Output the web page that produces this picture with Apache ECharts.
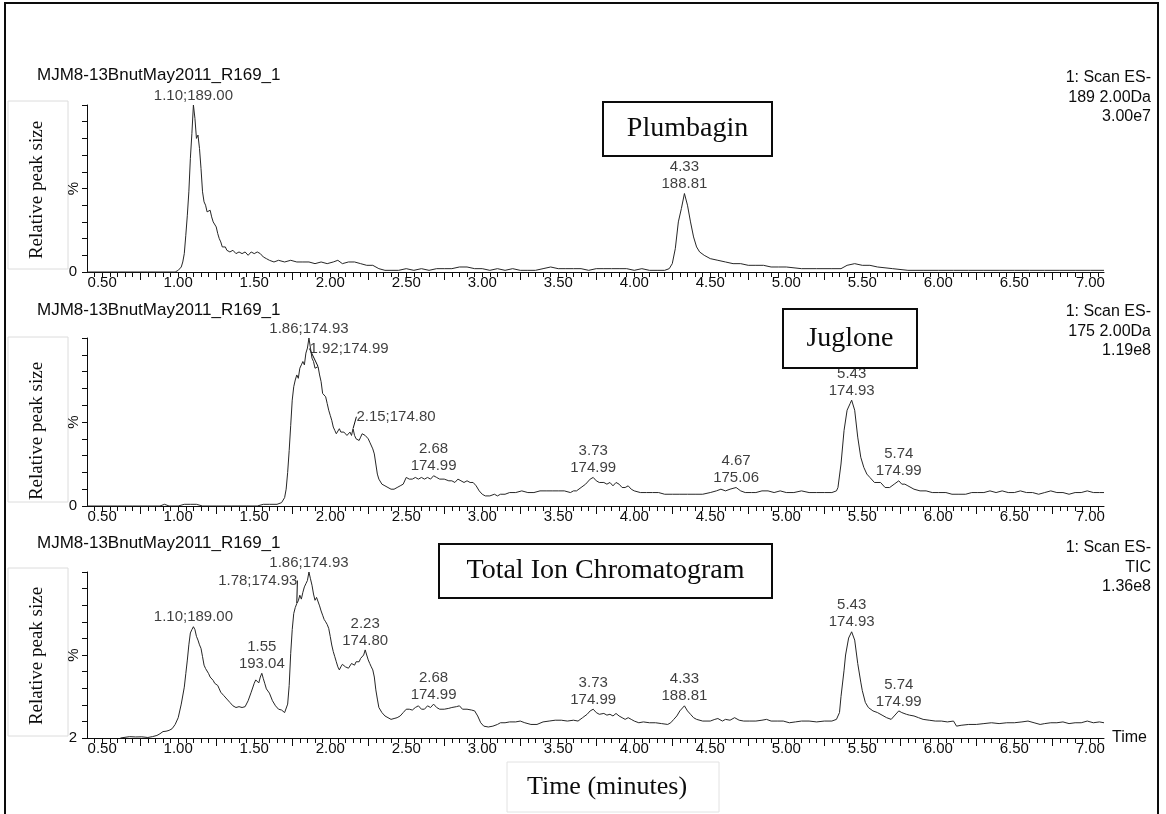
<!DOCTYPE html>
<html>
<head>
<meta charset="utf-8">
<script src="https://cdn.jsdelivr.net/npm/echarts/dist/echarts.min.js"></script>
<style>
  html, body { margin: 0; padding: 0; background: #fff; }
  #chart { width: 1166px; height: 814px; }
</style>
</head>
<body>
<div id="chart"></div>
<script>
// ---- Retention-time axis (minutes) ----
const xTickLabels = ['0.50','1.00','1.50','2.00','2.50','3.00','3.50','4.00','4.50','5.00','5.50','6.00','6.50','7.00'];

const runName = 'MJM8-13BnutMay2011_R169_1';

// ---- Extracted ion chromatogram, m/z 189 (Plumbagin): [time, % of max] ----
const plumbagin = [
  [0.40,0],[0.60,0],[0.80,0],[0.98,0],[1.00,1],[1.02,3],[1.03,6],[1.04,11],[1.05,22],[1.06,34],[1.07,48],[1.08,68],[1.09,83],
  [1.10,100],[1.11,92],[1.12,80],[1.13,82],[1.14,74],[1.15,62],[1.16,48],[1.17,42],[1.18,40],[1.19,36],[1.20,35],[1.21,37],
  [1.22,33],[1.23,30],[1.24,31],[1.25,27],[1.26,23],[1.27,20],[1.28,18],[1.29,15],[1.30,14],[1.31,15],[1.32,13],[1.33,14],
  [1.34,12],[1.36,13],[1.38,11],[1.40,12],[1.42,11],[1.44,12],[1.46,10],[1.48,12],[1.50,11],[1.52,12],[1.54,11],[1.56,9],
  [1.58,8],[1.60,7],[1.63,6],[1.66,7],[1.70,6],[1.74,7],[1.78,6],[1.82,6],[1.86,6],[1.90,5],[1.94,6],[1.98,5],[2.02,6],
  [2.05,7],[2.08,5],[2.12,6],[2.16,6],[2.20,5],[2.24,4],[2.28,4],[2.32,2],[2.36,1],[2.40,1],[2.45,1],[2.50,2],[2.55,1],
  [2.60,2],[2.65,1],[2.70,2],[2.75,2],[2.80,2],[2.85,3],[2.90,3],[2.95,2],[3.00,2],[3.05,1],[3.10,2],[3.15,1],[3.20,2],
  [3.25,1],[3.30,1],[3.35,1],[3.40,2],[3.45,3],[3.50,2],[3.55,2],[3.60,2],[3.65,2],[3.70,1],[3.75,2],[3.80,2],[3.85,2],
  [3.90,2],[3.95,2],[4.00,1],[4.05,2],[4.10,1],[4.15,1],[4.20,1],[4.23,2],[4.25,5],[4.27,14],[4.29,30],[4.31,38],[4.33,47],
  [4.35,40],[4.37,30],[4.39,21],[4.41,15],[4.43,12],[4.46,10],[4.50,8],[4.55,7],[4.60,6],[4.65,5],[4.70,5],[4.75,4],
  [4.80,4],[4.85,4],[4.90,3],[4.95,3],[5.00,3],[5.10,2],[5.20,2],[5.30,2],[5.36,2],[5.40,4],[5.45,5],[5.50,4],[5.55,4],
  [5.60,3],[5.70,2],[5.80,1],[5.90,1],[6.00,1],[6.10,1],[6.20,1],[6.30,1],[6.40,1],[6.50,1],[6.60,1],[6.70,1],[6.80,1],
  [6.90,1],[7.00,1],[7.09,1]
];
const plumbaginPeakTimes = [1.10, 4.33];
const plumbaginPeakTexts = ['1.10;189.00', '4.33\n188.81'];
const plumbaginScan = ['1: Scan ES-', '189 2.00Da', '3.00e7'];

// ---- Extracted ion chromatogram, m/z 175 (Juglone): [time, % of max] ----
const juglone = [
  [0.40,0],[0.50,0],[0.60,0],[0.70,0],[0.80,0],[0.88,0],[0.91,1],[0.94,0],[1.00,0],[1.04,1],[1.08,1],[1.12,1],[1.16,0],
  [1.25,0],[1.35,0],[1.45,0],[1.52,0],[1.56,1],[1.60,1],[1.65,1],[1.68,2],[1.70,5],[1.71,10],[1.72,20],[1.73,33],[1.74,48],
  [1.75,63],[1.76,71],[1.77,75],[1.78,78],[1.79,76],[1.80,82],[1.81,84],[1.82,86],[1.83,84],[1.84,91],[1.85,94],[1.86,100],
  [1.87,94],[1.88,88],[1.89,86],[1.90,82],[1.91,81],[1.92,83],[1.93,78],[1.94,74],[1.95,67],[1.96,68],[1.97,65],[1.98,61],
  [1.99,57],[2.00,54],[2.01,51],[2.02,47],[2.03,45],[2.04,43],[2.05,42],[2.06,46],[2.07,44],[2.08,45],[2.09,44],[2.10,43],
  [2.11,42],[2.12,43],[2.13,44],[2.14,42],[2.15,46],[2.16,42],[2.17,40],[2.18,41],[2.19,39],[2.20,41],[2.21,43],[2.22,44],
  [2.23,42],[2.24,43],[2.25,40],[2.26,38],[2.27,37],[2.28,34],[2.29,31],[2.30,25],[2.31,19],[2.32,16],[2.34,13],[2.36,12],
  [2.38,11],[2.40,10],[2.42,10],[2.44,11],[2.46,12],[2.48,13],[2.50,17],[2.52,16],[2.54,16],[2.56,17],[2.58,16],[2.60,17],
  [2.62,16],[2.64,17],[2.66,16],[2.68,18],[2.70,17],[2.72,16],[2.75,16],[2.78,15],[2.80,15],[2.82,14],[2.84,16],[2.86,15],
  [2.88,14],[2.90,15],[2.92,14],[2.94,14],[2.96,12],[2.98,9],[3.00,7],[3.02,6],[3.05,6],[3.08,7],[3.10,6],[3.12,7],
  [3.15,7],[3.18,8],[3.22,8],[3.26,9],[3.30,8],[3.34,8],[3.38,9],[3.42,9],[3.46,9],[3.50,9],[3.54,9],[3.58,8],[3.60,9],
  [3.62,9],[3.65,11],[3.68,13],[3.71,16],[3.73,17],[3.75,15],[3.77,14],[3.80,14],[3.82,13],[3.84,14],[3.86,12],[3.88,14],
  [3.90,13],[3.92,11],[3.94,11],[3.96,12],[3.98,10],[4.00,9],[4.04,8],[4.08,8],[4.12,8],[4.16,8],[4.20,7],[4.25,7],
  [4.30,7],[4.35,7],[4.40,7],[4.45,7],[4.50,8],[4.54,9],[4.57,10],[4.60,9],[4.63,10],[4.67,11],[4.70,9],[4.73,8],[4.77,8],
  [4.80,8],[4.84,9],[4.88,9],[4.92,8],[4.96,9],[5.00,8],[5.05,8],[5.10,9],[5.15,8],[5.20,8],[5.25,8],[5.30,8],[5.33,9],
  [5.34,11],[5.36,25],[5.38,45],[5.40,57],[5.42,61],[5.43,63],[5.45,57],[5.47,41],[5.49,29],[5.51,23],[5.53,19],[5.55,17],
  [5.58,14],[5.62,14],[5.65,11],[5.68,11],[5.69,10],[5.71,13],[5.74,15],[5.76,13],[5.78,13],[5.80,12],[5.84,10],[5.88,9],
  [5.92,9],[5.96,8],[6.00,8],[6.05,8],[6.09,7],[6.13,7],[6.18,7],[6.22,8],[6.26,8],[6.30,8],[6.34,9],[6.38,8],[6.42,9],
  [6.46,8],[6.50,8],[6.54,9],[6.58,8],[6.62,8],[6.66,7],[6.70,8],[6.74,9],[6.78,8],[6.82,8],[6.86,7],[6.90,8],[6.94,8],
  [6.98,9],[7.02,8],[7.06,8],[7.09,8]
];
const juglonePeakTimes = [1.86, 2.68, 3.73, 4.67, 5.43, 5.74];
const juglonePeakTexts = ['1.86;174.93', '2.68\n174.99', '3.73\n174.99', '4.67\n175.06', '5.43\n174.93', '5.74\n174.99'];
const jugloneLeaderTimes = [1.92, 2.15];
const jugloneLeaderTexts = ['1.92;174.99', '2.15;174.80'];
const jugloneScan = ['1: Scan ES-', '175 2.00Da', '1.19e8'];

// ---- Total ion chromatogram: [time, % (scale starts at 2)] ----
const tic = [
  [0.62,2],[0.65,2.4],[0.68,2.8],[0.72,2.6],[0.76,2.7],[0.80,2.3],[0.83,2.8],[0.86,3.5],[0.88,4.5],[0.90,5.8],[0.92,6],
  [0.94,6.5],[0.96,7.5],[0.98,10],[1.00,14],[1.02,22],[1.04,32],[1.05,40],[1.06,48],[1.07,57],[1.08,64],[1.09,66],
  [1.10,67.7],[1.11,66],[1.12,62],[1.13,59.8],[1.14,57],[1.15,54.9],[1.16,50],[1.17,45],[1.18,43],[1.19,42],[1.20,40],
  [1.21,38],[1.22,37.3],[1.23,36],[1.24,34.3],[1.25,35],[1.26,33],[1.27,31],[1.28,29],[1.30,27],[1.32,25],[1.34,23],
  [1.36,21],[1.38,20],[1.40,20.5],[1.42,20],[1.44,20.5],[1.46,24],[1.48,29],[1.50,34.3],[1.51,36.3],[1.52,36],[1.53,34.5],
  [1.54,38],[1.55,40.2],[1.56,37],[1.57,34],[1.58,31],[1.60,28.5],[1.62,24],[1.64,21],[1.66,19],[1.68,18.5],[1.70,17],
  [1.71,18],[1.72,22],[1.73,33],[1.74,52],[1.75,66],[1.76,75.5],[1.77,79],[1.78,81.4],[1.79,83],[1.80,86.3],[1.81,84],
  [1.82,88],[1.83,91.2],[1.84,93.1],[1.85,95],[1.86,100],[1.87,96],[1.88,92.2],[1.89,87],[1.90,83.3],[1.91,85],[1.92,85.3],
  [1.93,80],[1.94,77],[1.95,74.5],[1.96,72],[1.97,70.6],[1.98,69],[1.99,66.7],[2.00,62],[2.01,56.9],[2.02,53],[2.03,50],
  [2.04,47],[2.05,44],[2.06,42.2],[2.07,44],[2.08,45.5],[2.09,45.1],[2.10,44],[2.11,44.5],[2.12,43.2],[2.13,44],[2.14,46],
  [2.15,46.1],[2.16,45],[2.17,47],[2.18,48.1],[2.19,47],[2.20,49],[2.21,50],[2.22,51],[2.23,54],[2.24,51],[2.25,48.1],
  [2.26,46],[2.27,44],[2.28,42.2],[2.29,38],[2.30,30.4],[2.31,25],[2.32,20],[2.34,17],[2.36,15],[2.38,14],[2.40,13],
  [2.42,13.5],[2.44,14],[2.46,15],[2.48,17],[2.50,19],[2.52,19],[2.54,18.5],[2.56,20],[2.58,21],[2.60,19],[2.62,19],
  [2.64,21],[2.66,20],[2.68,22],[2.70,20],[2.72,19],[2.75,19],[2.78,19.5],[2.80,20],[2.83,20.5],[2.85,21],[2.87,19],
  [2.90,19],[2.93,18.5],[2.95,18],[2.97,15],[2.99,11],[3.01,9],[3.04,8.5],[3.07,9],[3.10,10],[3.12,11],[3.15,11],
  [3.18,11.5],[3.22,11.5],[3.25,12],[3.28,11],[3.32,10],[3.36,10],[3.40,11.5],[3.44,12],[3.48,12.5],[3.52,12.5],[3.56,12],
  [3.60,12.5],[3.63,12],[3.66,14],[3.69,16],[3.71,18],[3.73,19],[3.75,17],[3.77,16],[3.80,16.5],[3.82,15.5],[3.84,16],
  [3.86,15],[3.88,16.5],[3.90,15],[3.92,14],[3.94,13],[3.96,14],[3.98,13],[4.00,12],[4.03,11],[4.06,11.5],[4.10,11],
  [4.14,11],[4.18,10.5],[4.22,10],[4.24,11],[4.26,13],[4.28,15],[4.30,18],[4.33,21],[4.35,18],[4.37,16],[4.39,14],
  [4.41,13],[4.45,12],[4.50,12],[4.53,13],[4.55,13.5],[4.58,12],[4.60,13],[4.63,12.5],[4.66,14],[4.69,12.5],[4.72,12],
  [4.76,12],[4.80,12],[4.84,12.5],[4.87,13],[4.90,12],[4.94,12],[4.98,12],[5.02,11],[5.06,11.5],[5.10,12],[5.15,12],
  [5.20,11.5],[5.25,12],[5.30,12],[5.33,13],[5.35,17],[5.36,26.5],[5.38,42],[5.39,51],[5.41,61],[5.43,64.7],[5.45,59.8],
  [5.47,46],[5.49,35],[5.50,30],[5.52,23],[5.54,20],[5.57,18],[5.60,17],[5.63,15.5],[5.66,14],[5.69,13],[5.71,15],
  [5.72,16],[5.74,18],[5.76,17],[5.79,16],[5.81,15.5],[5.84,15],[5.87,14],[5.90,13],[5.94,12.5],[5.98,12],[6.02,12],
  [6.06,11.5],[6.10,12],[6.11,11],[6.12,9],[6.15,9.5],[6.20,10],[6.25,10],[6.30,10.5],[6.35,11],[6.40,10.5],[6.45,11],
  [6.50,11],[6.55,11.5],[6.59,12],[6.63,11],[6.67,10],[6.70,10.5],[6.74,11],[6.78,11],[6.82,11.5],[6.86,10.5],[6.90,11],
  [6.94,11],[6.98,12],[7.02,11],[7.06,11.5],[7.09,11]
];
const ticPeakTimes = [1.10, 1.55, 1.86, 2.23, 2.68, 3.73, 4.33, 5.43, 5.74];
const ticPeakTexts = ['1.10;189.00', '1.55\n193.04', '1.86;174.93', '2.23\n174.80', '2.68\n174.99', '3.73\n174.99',
                      '4.33\n188.81', '5.43\n174.93', '5.74\n174.99'];
const ticLeaderTimes = [1.78];
const ticLeaderTexts = ['1.78;174.93'];
const ticScan = ['1: Scan ES-', 'TIC', '1.36e8'];

// ---- Fonts and styling ----
const SANS = '"Liberation Sans", Arial, sans-serif';
const SERIF = '"Liberation Serif", "Times New Roman", serif';
const INK = '#0c0c0c';
const TRACE = '#262626';

const X_MIN = 0.4, X_MAX = 7.09;
const xLabelValues = xTickLabels.map(Number);
const minorTickValues = [];
for (let i = 9; i <= 141; i++) minorTickValues.push(+(i * 0.05).toFixed(2));
const majorTickValues = [];
for (let i = 1; i <= 13; i++) majorTickValues.push(+(0.25 + i * 0.5).toFixed(2));

function valueAt(series, t) {
  const p = series.find(d => Math.abs(d[0] - t) < 1e-6);
  return p ? p[1] : 0;
}

// panel layout: grid placement and y scale
const panels = [
  { top: 105, height: 167, data: plumbagin, yMin: 0,
    peakTimes: plumbaginPeakTimes, peakTexts: plumbaginPeakTexts,
    leaderTimes: [], leaderTexts: [], leaderShift: [] },
  { top: 338, height: 168, data: juglone, yMin: 0,
    peakTimes: juglonePeakTimes, peakTexts: juglonePeakTexts,
    leaderTimes: jugloneLeaderTimes, leaderTexts: jugloneLeaderTexts, leaderShift: [[31, -4], [43, 2]] },
  { top: 572, height: 166, data: tic, yMin: 2,
    peakTimes: ticPeakTimes, peakTexts: ticPeakTexts,
    leaderTimes: ticLeaderTimes, leaderTexts: ticLeaderTexts, leaderShift: [[-39, -9]] }
];

const grids = [], xAxes = [], yAxes = [], series = [];

panels.forEach((p, i) => {
  grids.push({ left: 87, width: 1017, top: p.top, height: p.height, containLabel: false });

  const yStep = (100 - p.yMin) / 10;
  const yTicks = [];
  for (let k = 0; k <= 10; k++) yTicks.push(+(p.yMin + k * yStep).toFixed(3));

  // main time axis: baseline, minor ticks, labels
  xAxes.push({
    type: 'value', gridIndex: i, min: X_MIN, max: X_MAX, position: 'bottom',
    axisLine: { show: true, onZero: false, lineStyle: { color: INK, width: 1 } },
    axisTick: { show: true, customValues: minorTickValues, length: 5, lineStyle: { color: INK, width: 1 } },
    axisLabel: { show: true, customValues: xLabelValues, formatter: v => v.toFixed(2),
                 fontFamily: SANS, fontSize: 15, color: INK, margin: 3 },
    splitLine: { show: false },
    name: i === 2 ? 'Time' : '',
    nameLocation: 'end', nameGap: 8,
    nameTextStyle: { fontFamily: SANS, fontSize: 16, color: INK }
  });
  // overlay axis carrying the longer quarter-minute ticks
  xAxes.push({
    type: 'value', gridIndex: i, min: X_MIN, max: X_MAX, position: 'bottom',
    axisLine: { show: false, onZero: false },
    axisTick: { show: true, customValues: majorTickValues, length: 8, lineStyle: { color: INK, width: 1 } },
    axisLabel: { show: false },
    splitLine: { show: false }
  });

  yAxes.push({
    type: 'value', gridIndex: i, min: p.yMin, max: 100,
    axisLine: { show: true, onZero: false, lineStyle: { color: INK, width: 1 } },
    axisTick: { show: true, customValues: yTicks, length: 5, lineStyle: { color: INK, width: 1 } },
    axisLabel: { show: true, customValues: [p.yMin], formatter: v => String(v),
                 fontFamily: SANS, fontSize: 15, color: INK, margin: 10 },
    splitLine: { show: false },
    name: '%', nameLocation: 'middle', nameRotate: 90, nameGap: 6, nameMoveOverlap: false,
    nameTextStyle: { fontFamily: SANS, fontSize: 15, color: INK }
  });

  series.push({
    type: 'line', xAxisIndex: 2 * i, yAxisIndex: i, data: p.data,
    showSymbol: false, symbol: 'none', silent: true,
    lineStyle: { color: TRACE, width: 1 }
  });

  // peak annotations sitting on the apex of each labelled peak
  series.push({
    type: 'scatter', xAxisIndex: 2 * i, yAxisIndex: i, silent: true,
    symbolSize: 0,
    data: p.peakTimes.map((t, k) => ({ value: [t, valueAt(p.data, t)], name: p.peakTexts[k] })),
    label: { show: true, position: 'top', distance: 1, formatter: d => d.name,
             fontFamily: SANS, fontSize: 15, lineHeight: 17, color: INK }
  });

  // annotations pulled aside from the trace, joined by a leader line
  if (p.leaderTimes.length) {
    series.push({
      type: 'scatter', xAxisIndex: 2 * i, yAxisIndex: i, silent: true,
      symbolSize: 1, itemStyle: { color: 'rgba(0,0,0,0)' },
      data: p.leaderTimes.map((t, k) => ({ value: [t, valueAt(p.data, t)], name: p.leaderTexts[k] })),
      label: { show: true, position: 'top', distance: 5, formatter: d => d.name,
               fontFamily: SANS, fontSize: 15, lineHeight: 17, color: INK },
      labelLayout: params => ({ dx: p.leaderShift[params.dataIndex][0], dy: p.leaderShift[params.dataIndex][1] }),
      labelLine: { show: true, lineStyle: { color: INK, width: 1 } }
    });
  }
});

// ---- Surrounding annotation: titles, scan info, compound boxes ----
const titleCenters = [77, 312, 545];
const titles = titleCenters.map(y => ({
  text: runName, left: 37, top: y - 10, padding: 0,
  textStyle: { fontFamily: SANS, fontSize: 17, fontWeight: 'normal', color: INK }
}));

const scanBlocks = [[plumbaginScan, 68], [jugloneScan, 302], [ticScan, 538]];
const graphics = [];

// outer frame
graphics.push({ type: 'rect', silent: true, shape: { x: 5, y: 3, width: 1153, height: 840 },
                style: { fill: 'none', stroke: INK, lineWidth: 2 } });

scanBlocks.forEach(([lines, y]) => {
  graphics.push({ type: 'text', silent: true, x: 1151, y: y,
    style: { text: lines.join('\n'), font: '16px ' + SANS, fill: INK, align: 'right',
             verticalAlign: 'top', lineHeight: 19.5 } });
});

// faint boxes holding the rotated y-axis captions
[[101, 168, 190], [337, 165, 431], [568, 168, 656]].forEach(([y, h, cy]) => {
  graphics.push({ type: 'rect', silent: true, z: -1, shape: { x: 8, y: y, width: 60, height: h },
                  style: { fill: '#fff', stroke: '#dcdcdc', lineWidth: 1 } });
  graphics.push({ type: 'text', silent: true, x: 37, y: cy, rotation: Math.PI / 2,
    style: { text: 'Relative peak size', font: '19px ' + SERIF, fill: INK,
             align: 'center', verticalAlign: 'middle' } });
});

// compound name boxes
[['Plumbagin', 603, 102, 169, 54], ['Juglone', 783, 309, 134, 59], ['Total Ion Chromatogram', 439, 544, 333, 54]]
  .forEach(([txt, x, y, w, h]) => {
    graphics.push({ type: 'rect', silent: true, shape: { x: x, y: y, width: w, height: h },
                    style: { fill: '#fff', stroke: INK, lineWidth: 2 } });
    graphics.push({ type: 'text', silent: true, x: x + w / 2, y: y + h / 2,
      style: { text: txt, font: '28px ' + SERIF, fill: INK, align: 'center', verticalAlign: 'middle' } });
  });

// time caption box
graphics.push({ type: 'rect', silent: true, shape: { x: 507, y: 762, width: 212, height: 50 },
                style: { fill: '#fff', stroke: '#e2e2e2', lineWidth: 1 } });
graphics.push({ type: 'text', silent: true, x: 607, y: 787,
  style: { text: 'Time (minutes)', font: '26px ' + SERIF, fill: INK, align: 'center', verticalAlign: 'middle' } });

const chart = echarts.init(document.getElementById('chart'), null, { renderer: 'canvas' });
chart.setOption({
  animation: false,
  backgroundColor: '#fff',
  title: titles,
  grid: grids,
  xAxis: xAxes,
  yAxis: yAxes,
  series: series,
  graphic: graphics
});
</script>
</body>
</html>
